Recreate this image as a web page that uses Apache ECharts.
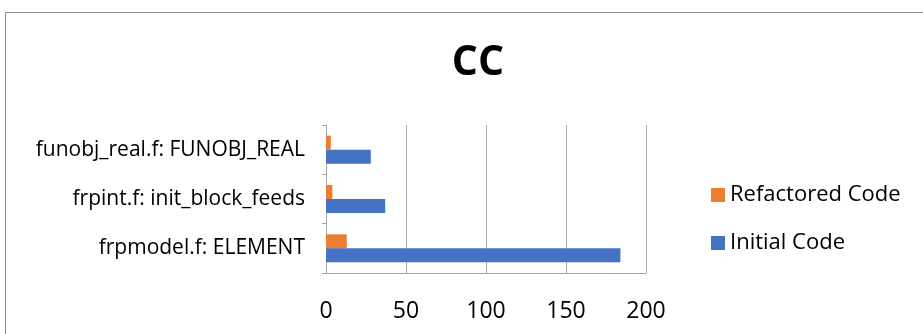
<!DOCTYPE html>
<html>
<head>
<meta charset="utf-8">
<script src="https://cdn.jsdelivr.net/npm/echarts@6/dist/echarts.min.js"></script>
<style>
html, body { margin: 0; padding: 0; background: #fff; }
#chart { width: 923px; height: 334px; }
</style>
</head>
<body>
<div id="chart"></div>
<script>
// Routines, listed bottom to top on the category axis
const categories = ['frpmodel.f: ELEMENT', 'frpint.f: init_block_feeds', 'funobj_real.f: FUNOBJ_REAL'];
const initialCode = [184, 37, 28];
const refactoredCode = [13, 4, 3];
const xTicks = [0, 50, 100, 150, 200];

const FONT = '"Open Sans", sans-serif';
const chart = echarts.init(document.getElementById('chart'), null, { renderer: 'canvas' });

chart.setOption({
  backgroundColor: '#fff',
  animation: false,
  title: {
    text: 'CC',
    left: 473,
    top: 38,
    textAlign: 'center',
    textStyle: { fontFamily: FONT, fontWeight: 'bold', fontSize: 41, color: '#000' }
  },
  graphic: [{
    type: 'rect',
    shape: { x: 5.5, y: 12.5, width: 1000, height: 500 },
    style: { fill: null, stroke: '#8c8c8c', lineWidth: 1 },
    silent: true
  }],
  legend: {
    orient: 'vertical',
    left: 706,
    top: 179,
    itemWidth: 14,
    itemHeight: 14,
    itemGap: 26,
    icon: 'rect',
    data: ['Refactored Code', 'Initial Code'],
    textStyle: { fontFamily: FONT, fontSize: 22, color: '#000' }
  },
  grid: { left: 326, right: 277, top: 125, bottom: 61, containLabel: false },
  xAxis: {
    type: 'value',
    min: xTicks[0],
    max: xTicks[xTicks.length - 1],
    interval: xTicks[1] - xTicks[0],
    axisLine: { show: true, lineStyle: { color: '#a6a6a6' } },
    axisTick: { show: false },
    splitLine: { show: true, lineStyle: { color: '#a6a6a6' } },
    axisLabel: { fontFamily: FONT, fontSize: 23, color: '#000', margin: 27 }
  },
  yAxis: {
    type: 'category',
    data: categories,
    axisLine: { show: true, lineStyle: { color: '#a6a6a6' } },
    axisTick: { show: true, length: 4, lineStyle: { color: '#a6a6a6' } },
    axisLabel: { fontFamily: FONT, fontSize: 21, color: '#000', margin: 21, padding: [4, 0, 0, 0] }
  },
  series: [
    {
      name: 'Refactored Code',
      type: 'bar',
      data: refactoredCode,
      itemStyle: { color: '#ed7d31' },
      barWidth: 14,
      barGap: '0%'
    },
    {
      name: 'Initial Code',
      type: 'bar',
      data: initialCode,
      itemStyle: { color: '#4472c4' },
      barWidth: 14,
      barGap: '0%'
    }
  ]
});
</script>
</body>
</html>
